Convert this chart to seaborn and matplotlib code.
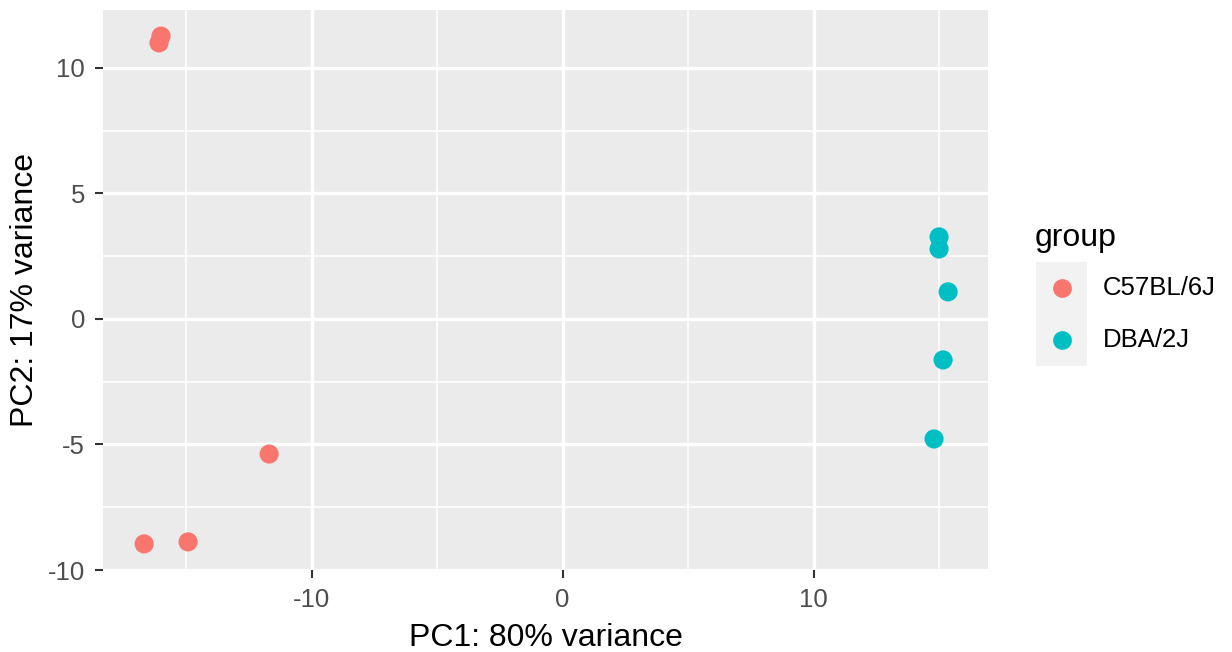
import matplotlib
matplotlib.use("Agg")
import matplotlib.pyplot as plt
from matplotlib.patches import Rectangle
from matplotlib.lines import Line2D
import seaborn as sns
import pandas as pd

# ---- data ----
groups = ["C57BL/6J", "DBA/2J"]
c57_pc1 = [-16.00, -16.08, -11.69, -14.92, -16.67]
c57_pc2 = [11.27, 11.00, -5.38, -8.88, -8.96]
dba_pc1 = [15.00, 15.00, 15.36, 15.16, 14.80]
dba_pc2 = [3.27, 2.79, 1.08, -1.63, -4.78]
x_label = "PC1: 80% variance"
y_label = "PC2: 17% variance"
legend_title = "group"
palette = ["#F8766D", "#00BFC4"]

df = pd.DataFrame({
    "PC1": c57_pc1 + dba_pc1,
    "PC2": c57_pc2 + dba_pc2,
    "group": [groups[0]] * len(c57_pc1) + [groups[1]] * len(dba_pc1),
})

W, H = 1232, 652
fig = plt.figure(figsize=(W / 100, H / 100), dpi=100)
plt.rcParams["font.family"] = ["Liberation Sans", "DejaVu Sans"]

def fx(px):
    return px / W

def fy(py):
    return 1 - py / H

left, right, top, bottom = 103, 988, 10, 570
ax = fig.add_axes([fx(left), fy(bottom), fx(right) - fx(left), fy(top) - fy(bottom)])
ax.set_facecolor("#EBEBEB")

sns.scatterplot(data=df, x="PC1", y="PC2", hue="group", palette=palette,
                hue_order=groups, s=190, edgecolor="none", legend=False, ax=ax, zorder=3)

ax.set_xlim(-18.31, 16.95)
ax.set_ylim(-10.0, 12.31)
ax.set_xticks([-10, 0, 10])
ax.set_xticks([-15, -5, 5, 15], minor=True)
ax.set_yticks([-10, -5, 0, 5, 10])
ax.set_yticks([-7.5, -2.5, 2.5, 7.5], minor=True)
ax.set_xticklabels(["-10", "0", "10"])
ax.set_yticklabels(["-10", "-5", "0", "5", "10"])
ax.grid(which="major", color="white", linewidth=2.4, zorder=0)
ax.grid(which="minor", color="white", linewidth=1.2, zorder=0)
ax.set_axisbelow(True)
for sp in ax.spines.values():
    sp.set_visible(False)
ax.tick_params(which="major", length=5.8, width=1.5, color="#333333",
               labelsize=18.5, labelcolor="#4D4D4D", pad=7)
ax.tick_params(which="minor", length=0)
ax.set_xlabel(x_label, fontsize=23, color="black", labelpad=8)
ax.set_ylabel(y_label, fontsize=23, color="black", labelpad=6)

# ---- legend (ggplot-style) ----
fig.text(fx(1035), fy(238), legend_title, fontsize=23, color="black",
         ha="left", va="center")
key_x0, key_x1 = 1036, 1087
key_tops = [262, 314]
key_h = 52
for i, g in enumerate(groups):
    t = key_tops[i]
    fig.patches.append(Rectangle((fx(key_x0), fy(t + key_h)), fx(key_x1) - fx(key_x0),
                                 key_h / H, transform=fig.transFigure,
                                 facecolor="#F2F2F2", edgecolor="none"))
    cy = t + key_h / 2
    fig.add_artist(Line2D([fx((key_x0 + key_x1) / 2)], [fy(cy)], marker="o",
                          markersize=13.5, color=palette[i], markeredgewidth=0,
                          linestyle="none", transform=fig.transFigure))
    fig.text(fx(1103), fy(cy), g, fontsize=18.5, color="black",
             ha="left", va="center")

fig.savefig("out.png", dpi=100, facecolor="white")
